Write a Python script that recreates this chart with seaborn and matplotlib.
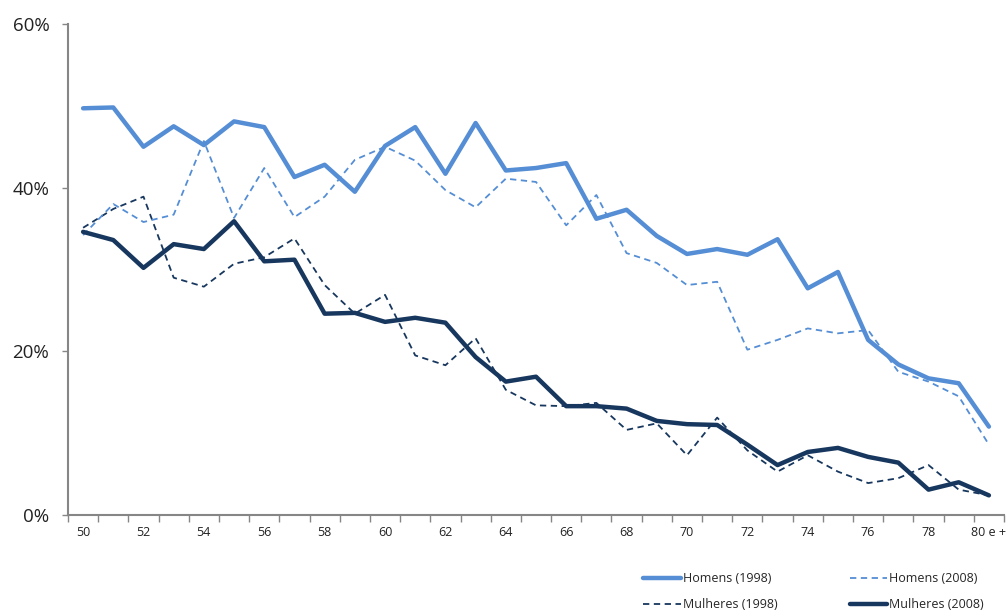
import numpy as np
import pandas as pd
import seaborn as sns
import matplotlib.pyplot as plt
from matplotlib.ticker import FixedLocator, FuncFormatter

# Ages 50 .. 80 e +
ages = list(range(50, 81))
age_labels = [str(a) if a < 80 else "80 e +" for a in ages]

# Shares (%)
homens_1998 = [49.7, 49.8, 45.0, 47.5, 45.2, 48.1, 47.4, 41.3, 42.8, 39.5,
               45.1, 47.4, 41.7, 47.9, 42.1, 42.4, 43.0, 36.2, 37.3, 34.1,
               31.9, 32.5, 31.8, 33.7, 27.7, 29.7, 21.4, 18.4, 16.7, 16.1, 10.8]
homens_2008 = [34.2, 38.0, 35.8, 36.7, 45.7, 36.3, 42.4, 36.4, 38.9, 43.4,
               45.0, 43.3, 39.7, 37.6, 41.1, 40.7, 35.4, 39.1, 32.0, 30.8,
               28.1, 28.5, 20.2, 21.4, 22.8, 22.2, 22.6, 17.5, 16.3, 14.5, 8.6]
mulheres_1998 = [35.1, 37.4, 38.9, 29.0, 27.9, 30.7, 31.5, 33.8, 28.1, 24.6,
                 26.9, 19.5, 18.3, 21.6, 15.3, 13.4, 13.3, 13.7, 10.4, 11.2,
                 7.3, 11.9, 7.9, 5.3, 7.3, 5.3, 3.9, 4.5, 6.1, 3.1, 2.4]
mulheres_2008 = [34.6, 33.6, 30.2, 33.1, 32.5, 35.9, 31.0, 31.2, 24.6, 24.7,
                 23.6, 24.1, 23.5, 19.3, 16.3, 16.9, 13.3, 13.3, 13.0, 11.5,
                 11.1, 11.0, 8.6, 6.1, 7.7, 8.2, 7.1, 6.4, 3.1, 4.0, 2.4]

light_blue = "#558ed5"
navy = "#17375e"

series = [
    ("Homens (1998)", homens_1998, light_blue, "-", 3.2),
    ("Mulheres (1998)", mulheres_1998, navy, (0, (3.5, 2.5)), 1.3),
    ("Homens (2008)", homens_2008, light_blue, (0, (3.5, 2.5)), 1.3),
    ("Mulheres (2008)", mulheres_2008, navy, "-", 3.2),
]

sns.set_style("white")
plt.rcParams['font.family'] = ['Open Sans', 'DejaVu Sans']

fig = plt.figure(figsize=(10.08, 6.15), dpi=100)
ax = fig.add_axes([68 / 1008, 100 / 615, (1004 - 68) / 1008, 491 / 615])

pos = np.arange(len(ages))
for label, values, color, ls, lw in series:
    sns.lineplot(x=pos, y=values, ax=ax, color=color, linestyle=ls,
                 linewidth=lw, label=label, legend=False)

ax.set_xlim(-0.5, len(ages) - 0.5)
ax.set_ylim(0, 60)

# y axis
ax.set_yticks([0, 20, 40, 60])
ax.yaxis.set_major_formatter(FuncFormatter(lambda v, _: f"{v:.0f}%"))
ax.tick_params(axis="y", length=4.5, width=1, color="#868686", labelsize=13.5,
               labelcolor="#222222", pad=9, left=True)

# x axis: tick marks between categories, labels on every other category
ax.xaxis.set_major_locator(FixedLocator(np.arange(-0.5, len(ages), 1.0)))
ax.xaxis.set_major_formatter(FuncFormatter(lambda v, _: ""))
ax.xaxis.set_minor_locator(FixedLocator(pos[::2]))
ax.xaxis.set_minor_formatter(FuncFormatter(lambda v, _: age_labels[int(round(v))]))
ax.tick_params(axis="x", which="major", length=5, width=1, color="#868686",
               bottom=True)
ax.tick_params(axis="x", which="minor", length=0, labelsize=9,
               labelcolor="#222222", pad=8, bottom=True)

for side in ["top", "right"]:
    ax.spines[side].set_visible(False)
for side in ["left", "bottom"]:
    ax.spines[side].set_color("#868686")
    ax.spines[side].set_linewidth(1.5)

handles, labels = ax.get_legend_handles_labels()
fig.legend(handles, labels, ncol=2, loc="upper left",
           bbox_to_anchor=(637 / 1008, 1 - 566 / 615), frameon=False,
           fontsize=9, handlelength=3.0, handletextpad=0.15,
           columnspacing=5.8, labelspacing=1.05, borderpad=0)

fig.savefig("out.png", dpi=100)
